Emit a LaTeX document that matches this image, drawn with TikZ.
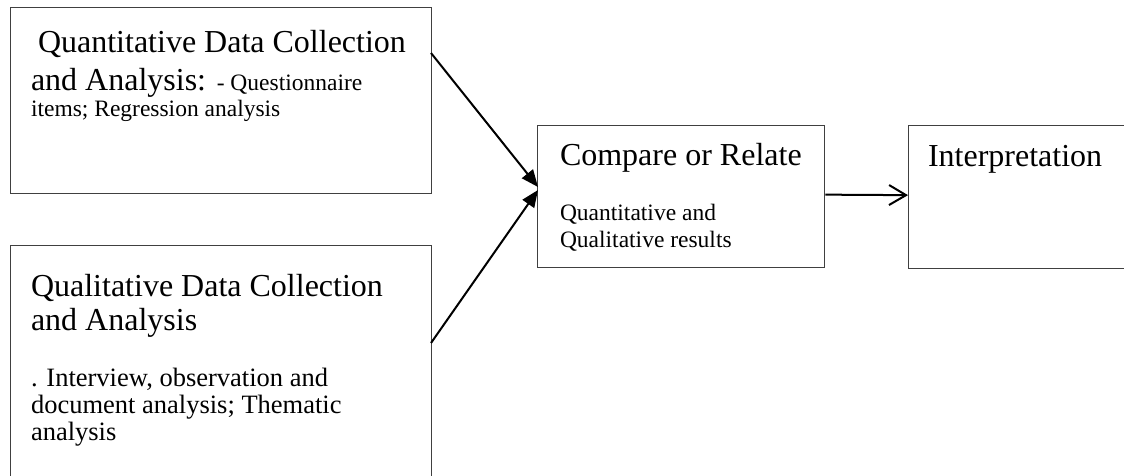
\documentclass[tikz,border=0pt]{standalone}
\usepackage{fontspec}
\setmainfont{Liberation Serif}
\usetikzlibrary{arrows.meta}
\definecolor{boxgray}{HTML}{404040}
\newcommand\bigf{\fontsize{32}{35}\selectfont}
\newcommand\smf{\fontsize{23.5}{27}\selectfont}
\newcommand\mdf{\fontsize{26.5}{27}\selectfont}
\begin{document}
\begin{tikzpicture}[x=1pt,y=-1pt,
  box/.style={draw=boxgray, line width=1.3pt, inner sep=0pt, anchor=north west},
  txt/.style={anchor=base west, inner sep=0pt, outer sep=0pt},
  conv/.style={line width=2pt, -{Triangle[length=17pt,width=14pt]}},
  openarr/.style={line width=2pt, -{Straight Barb[length=17pt,width=20pt,line width=2pt]}}]
\useasboundingbox (0,0) rectangle (1124,476);
\clip (0,0) rectangle (1124,476);
% boxes
\node[box, minimum width=421pt, minimum height=186pt] (quant) at (10,7) {};
\node[box, minimum width=421pt, minimum height=260pt] (qual) at (10,245) {};
\node[box, minimum width=287pt, minimum height=142pt] (comp) at (537,125) {};
\node[box, minimum width=260pt, minimum height=143pt] (interp) at (908,125) {};
% texts
\node[txt] (q1) at (38,53) {\bigf Quantitative Data Collection};
\node[txt] (q2) at (31,91) {\bigf and Analysis: \smf - Questionnaire};
\node[txt] (q3) at (31,117) {\smf items; Regression analysis};
\node[txt] (l1) at (31,296) {\bigf Qualitative Data Collection};
\node[txt] (l2) at (31,330) {\bigf and Analysis};
\node[txt] (l3) at (31,386) {\mdf . Interview, observation and};
\node[txt] (l4) at (31,413) {\mdf document analysis; Thematic};
\node[txt] (l5) at (31,440) {\mdf analysis};
\node[txt] (c1) at (560,165) {\bigf Compare or Relate};
\node[txt] (c2) at (560,220) {\smf Quantitative and};
\node[txt] (c3) at (560,247) {\smf Qualitative results};
\node[txt] (i1) at (928,166) {\bigf Interpretation};
% connectors
\coordinate (s1) at (431,53);
\coordinate (e1) at (538,187);
\coordinate (s2) at (431,343);
\coordinate (e2) at (538,190);
\draw[conv] (s1) -- (e1);
\draw[conv] (s2) -- (e2);
\draw[openarr] ([yshift=2pt]comp.east) -- ([yshift=2pt]interp.west);
\end{tikzpicture}
\end{document}
